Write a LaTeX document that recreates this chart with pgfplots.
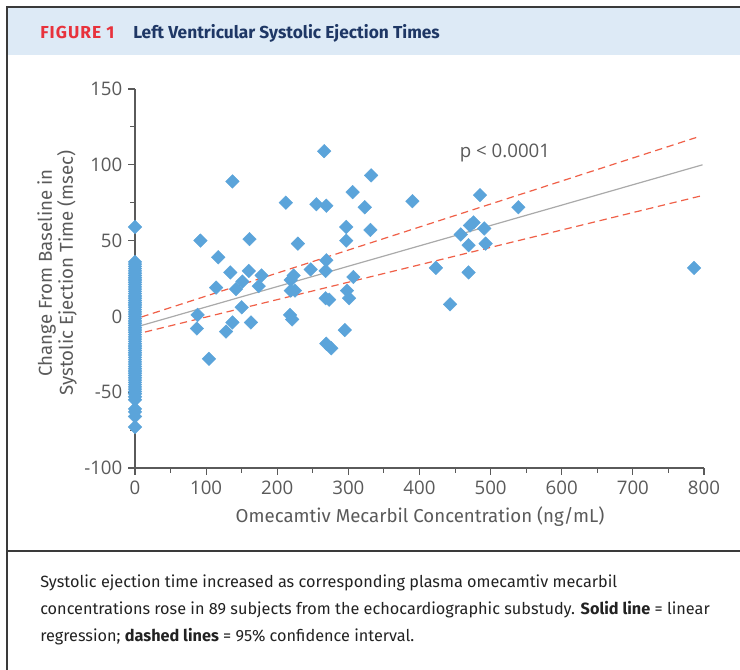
\documentclass[border=0pt]{standalone}
\usepackage{fontspec}
\setmainfont{Open Sans}
\newfontfamily\cond{Fira Sans}
\usepackage{pgfplots}
\pgfplotsset{compat=1.18}
\definecolor{hdrbg}{HTML}{DDEAF6}
\definecolor{figred}{HTML}{E8323C}
\definecolor{navy}{HTML}{1E3765}
\definecolor{mk}{HTML}{5BA4DA}
\definecolor{axgray}{HTML}{5A5A5A}
\definecolor{dashred}{HTML}{F06048}
\definecolor{regray}{HTML}{AAAAAA}
\definecolor{frame}{HTML}{3A3A3A}
\definecolor{txt}{HTML}{222222}
\begin{document}
\begin{tikzpicture}[x=0.75pt,y=0.75pt]
\useasboundingbox (0,0) rectangle (740,669);
\fill[white] (0,0) rectangle (740,669);
% header band
\fill[hdrbg] (8,614) rectangle (745,661);
\draw[frame,line width=1.5pt] (7,-50) -- (7,662) -- (750,662);
\draw[frame,line width=1.2pt] (7,118) -- (750,118);
\node[anchor=base west,inner sep=0pt,text=figred,font={\cond\fontsize{13}{15}\selectfont\bfseries\addfontfeature{LetterSpace=6}}] at (40,630) {FIGURE 1};
\node[anchor=base west,inner sep=0pt,text=navy,font={\cond\fontsize{13}{15}\selectfont\bfseries}] at (133,630) {Left Ventricular Systolic Ejection Times};
\begin{axis}[
  at={(101.25pt,150.75pt)}, anchor=south west,
  scale only axis, width=426.75pt, height=284.25pt,
  xmin=0, xmax=800, ymin=-100, ymax=150,
  axis x line=bottom, axis y line=left,
  axis line style={-, axgray, line width=0.8pt},
  xtick={0,100,...,800}, ytick={-100,-50,...,150},
  minor x tick num=1, minor y tick num=1,
  tick align=outside,
  major tick length=5pt, minor tick length=3.6pt,
  tick style={axgray, line width=0.8pt},
  every tick label/.append style={font=\fontsize{14}{16}\selectfont, text=axgray},
  /pgf/number format/assume math mode=true,
  yticklabel style={xshift=-1pt},
  xticklabel style={yshift=-1pt},
  clip=false,
]
\addplot[dashred, line width=0.9pt, dash pattern=on 5.5pt off 3.5pt] coordinates {(9,-0.4) (789,118)};
\addplot[dashred, line width=0.9pt, dash pattern=on 5.5pt off 3.5pt] coordinates {(14,-10.3) (795,79.4)};
\addplot[regray, line width=0.9pt] coordinates {(9,-6) (798,100)};
\addplot[only marks, mark=square*, mark size=3.6pt, mark options={rotate=45, fill=mk, draw=mk, line width=0.3pt}] coordinates {
(0,59) (0,36) (0,34.5) (0,33) (0,31.5) (0,30) (0,28.5) (0,27) (0,25.5) (0,24) (0,22.5) (0,21) (0,19.5) (0,18) (0,16.5) (0,15) (0,13.5) (0,12) (0,10.5) (0,9) (0,7.5) (0,6) (0,4.5) (0,3) (0,1.5) (0,0) (0,-1.5) (0,-3) (0,-4.5) (0,-6) (0,-7.5) (0,-9) (0,-10.5) (0,-12) (0,-13.5) (0,-15) (0,-16.5) (0,-18) (0,-19.5) (0,-21) (0,-22.5) (0,-24) (0,-25.5) (0,-27) (0,-28.5) (0,-30) (0,-31.5) (0,-33) (0,-34.5) (0,-36) (0,-37.5) (0,-39) (0,-40.5) (0,-42) (0,-43.5) (0,-45) (0,-46.5) (0,-48) (0,-49.5) (0,-51) (0,-53) (0,-55) (0,-61) (0,-63) (0,-66) (0,-73)
(92,50) (88,1) (87,-8) (104,-28) (117,39) (114,19) (137,89) (134,29) (128,-10) (137,-4)
(142,18) (151,23) (150,6) (161,51) (160,30) (163,-4) (178,27) (174,20) (212,75) (218,1)
(221,-2) (219,17) (225,17) (219,24) (223,27) (229,48) (255,74) (247,31) (266,109) (269,73)
(269,37) (268,30) (268,12) (273,11) (269,-18) (276,-21) (295,-9) (297,59) (297,50) (298,17)
(301,12) (307,26) (306,82) (323,72) (332,93) (331,57) (390,76) (423,32) (443,8) (458,54)
(469,47) (471,60) (476,62) (491,58) (493,48) (485,80) (469,29) (539,72) (786,32)
};
\end{axis}
\node[text=axgray, inner sep=0pt, font={\fontsize{14}{16}\selectfont}] at (505,516) {p < 0.0001};
\node[text=axgray, inner sep=0pt, anchor=base, font={\cond\fontsize{14}{16}\selectfont}] at (420,147) {Omecamtiv Mecarbil Concentration (ng/mL)};
\node[text=axgray, inner sep=0pt, rotate=90, align=center, font={\cond\fontsize{14}{15.75}\selectfont}] at (57,396) {Change From Baseline in\\Systolic Ejection Time (msec)};
\node[text=txt, inner sep=0pt, anchor=north west, align=left, font={\cond\fontsize{12.2}{20.25}\selectfont}] at (40,94) {Systolic ejection time increased as corresponding plasma omecamtiv mecarbil\\concentrations rose in 89 subjects from the echocardiographic substudy. \textbf{Solid line} = linear\\regression; \textbf{dashed lines} = 95\% confidence interval.};
\end{tikzpicture}
\end{document}
